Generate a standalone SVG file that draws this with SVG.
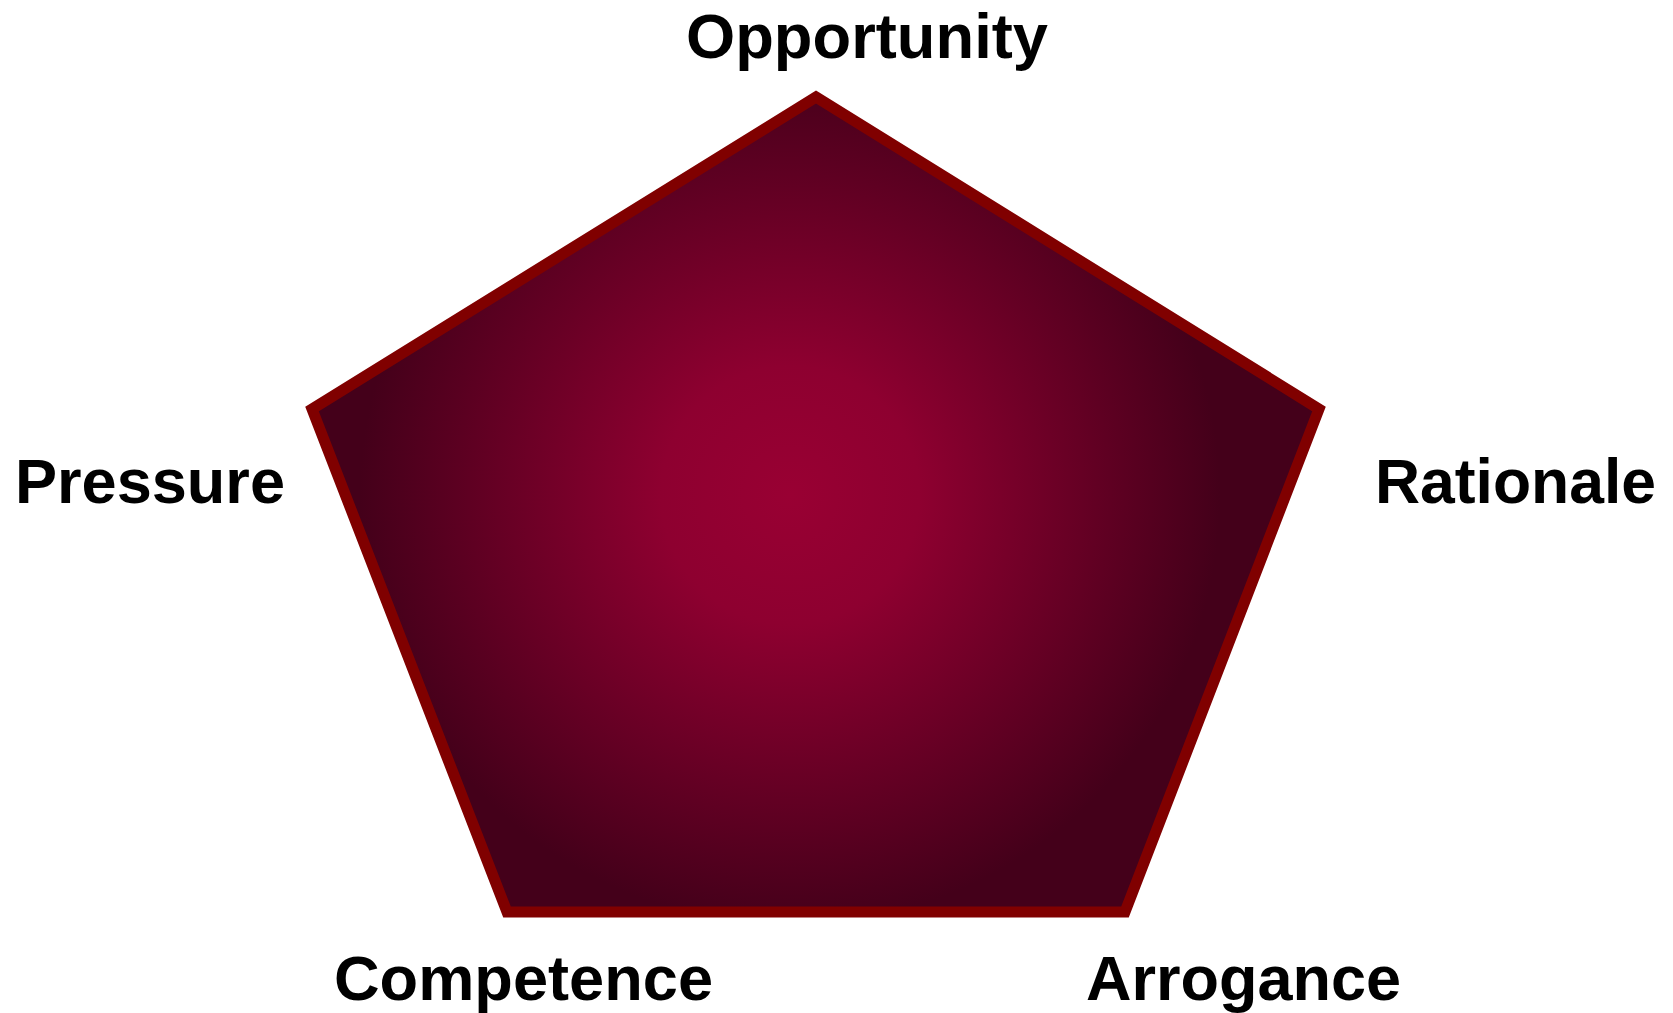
<svg xmlns="http://www.w3.org/2000/svg" width="1673" height="1013" viewBox="0 0 1673 1013">
<defs>
<radialGradient id="g" gradientUnits="userSpaceOnUse" cx="790" cy="495" r="430">
<stop offset="0" stop-color="#990033"/>
<stop offset="0.3" stop-color="#8e0030"/>
<stop offset="1" stop-color="#44001a"/>
</radialGradient>
<style>
.lbl{font-family:"Liberation Sans",Arial,sans-serif;font-weight:bold;font-size:63px;fill:#000}
.pent{fill:url(#g);stroke:#800000;stroke-width:11;stroke-linejoin:miter}
</style>
</defs>
<rect width="1673" height="1013" fill="#fff"/>
<g id="pentagon">
<polygon class="pent" points="816,97 1319,409 1125,912 507,912 312,409"/>
</g>
<g id="connectors"/>
<g id="opportunity"><text class="lbl" x="686" y="58" textLength="362" lengthAdjust="spacingAndGlyphs">Opportunity</text></g>
<g id="pressure"><text class="lbl" x="15" y="503" textLength="270" lengthAdjust="spacingAndGlyphs">Pressure</text></g>
<g id="rationale"><text class="lbl" x="1375" y="503" textLength="281" lengthAdjust="spacingAndGlyphs">Rationale</text></g>
<g id="competence"><text class="lbl" x="334" y="1000" textLength="379" lengthAdjust="spacingAndGlyphs">Competence</text></g>
<g id="arrogance"><text class="lbl" x="1086" y="1000" textLength="315" lengthAdjust="spacingAndGlyphs">Arrogance</text></g>
</svg>
